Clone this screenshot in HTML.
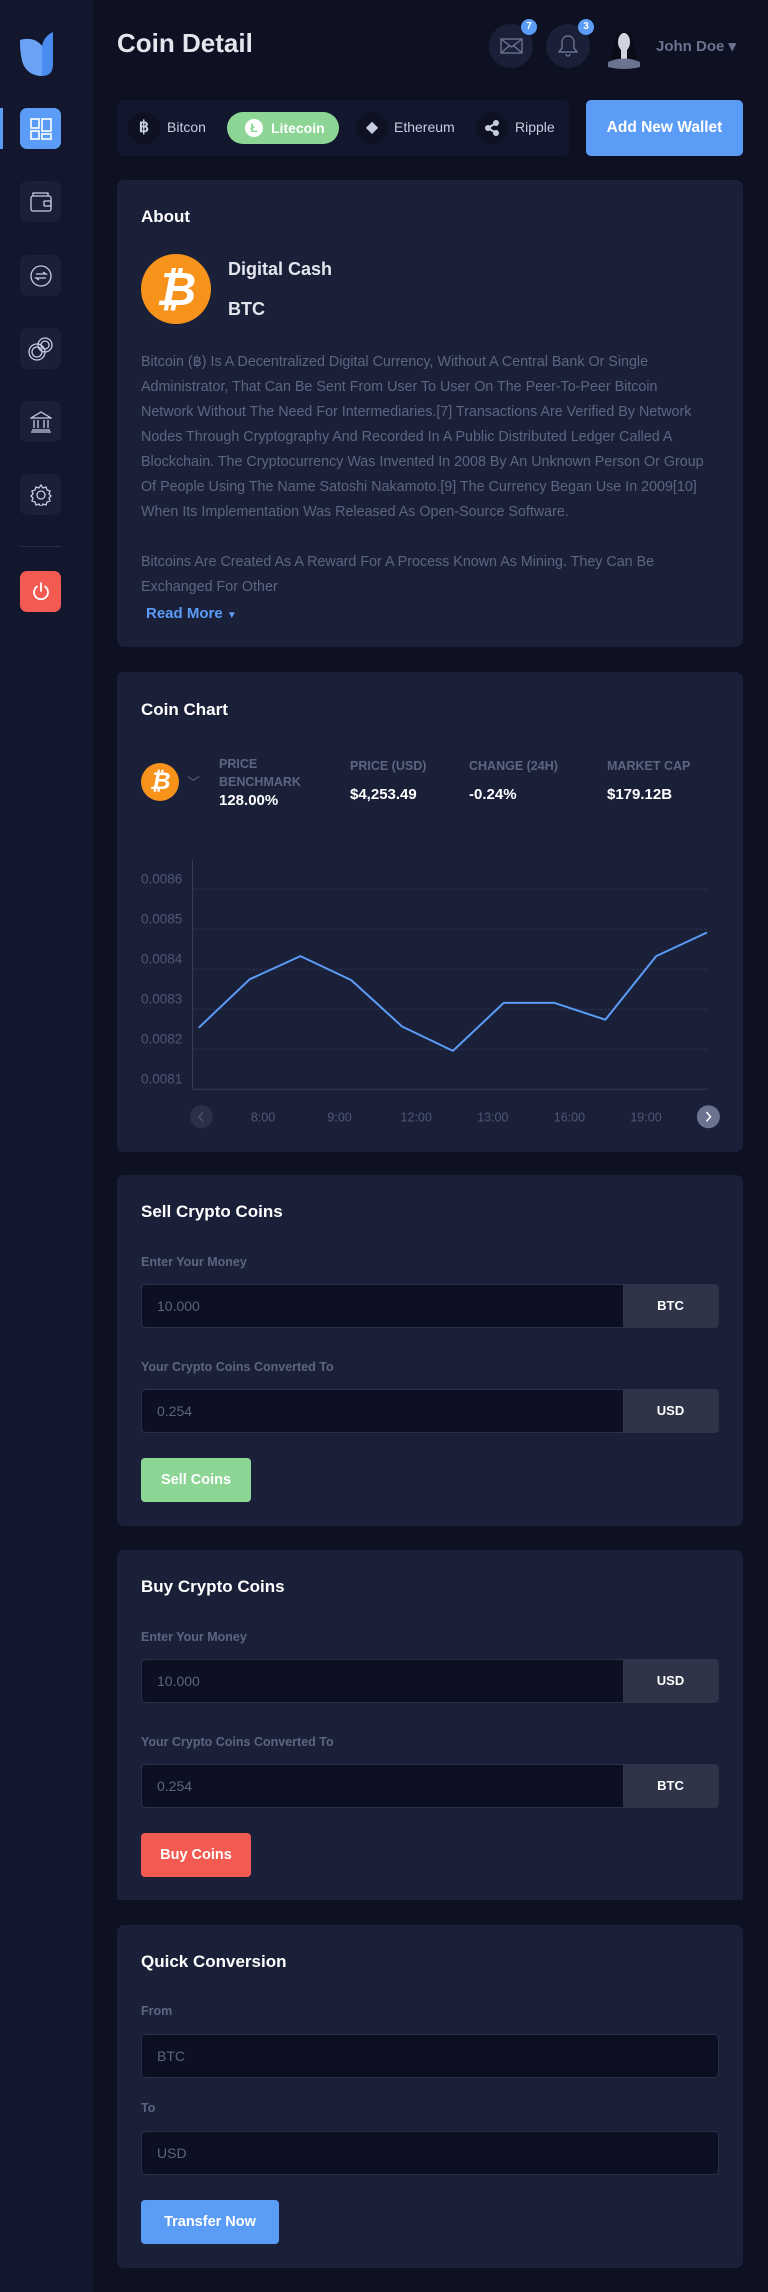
<!DOCTYPE html>
<html><head><meta charset="utf-8"><style>
*{box-sizing:border-box;margin:0;padding:0}
body{width:768px;height:2292px;background:#0d1121;font-family:"Liberation Sans",sans-serif;position:relative;overflow:hidden;color:#fff}
.a{position:absolute}
.side{left:0;top:0;width:93px;height:2292px;background:#12172e}
.sb{position:absolute;left:20px;width:41px;height:41px;border-radius:7px;background:#1a2038;display:flex;align-items:center;justify-content:center}
.card{position:absolute;left:117px;width:626px;background:#1b2039;border-radius:7px}
.h{position:absolute;left:24px;font-size:17px;font-weight:bold;color:#fff}
.lbl{position:absolute;left:24px;font-size:12.5px;font-weight:bold;color:#5c6580}
.inp{position:absolute;left:24px;width:578px;height:44px;background:#0c1022;border:1px solid #2a3048;border-radius:4px;font-size:14px;color:#5c6580;padding-left:15px;line-height:42px}
.add{position:absolute;right:0;top:-1px;width:95px;height:44px;background:#2f3449;color:#fff;font-weight:bold;font-size:13px;text-align:center;line-height:44px;border-radius:0 4px 4px 0}
.btn{position:absolute;left:24px;height:44px;border-radius:4px;font-weight:bold;font-size:14.5px;color:#fff;text-align:center;line-height:44px}
.p{position:absolute;left:24px;font-size:14.3px;color:#5c6580;line-height:25px;width:600px;white-space:nowrap}
.cl{font-size:12.5px;font-weight:bold;color:#5c6580;position:absolute}
.cv{font-size:15px;font-weight:bold;color:#fff;position:absolute}
</style></head><body>
<div class="a side">
 <svg class="a" style="left:20px;top:32px" width="33" height="44" viewBox="0 0 33 44"><path d="M0 8 Q0 30 10 40 Q16 44 22 44 Q33 44 33 32 L33 0 Q24 4 22 14 Q14 4 0 8Z" fill="#4a8bf0"/><path d="M0 8 Q14 4 22 14 L22 44 Q10 44 4 34 Q0 26 0 8Z" fill="#6aa3f5"/></svg>
 <div class="a" style="left:0;top:108px;width:3px;height:41px;background:#5b9cf6"></div>
 <div class="sb" style="top:108px;background:#5b9cf6"><svg width="22" height="22" viewBox="0 0 22 22" fill="none" stroke="#fff" stroke-width="1.6"><rect x="1" y="1" width="8" height="9"/><rect x="1" y="13" width="8" height="8"/><rect x="12" y="1" width="9" height="12"/><rect x="12" y="16" width="9" height="5"/></svg></div>
 <div class="sb" style="top:181px"><svg width="22" height="20" viewBox="0 0 22 20" fill="none" stroke="#c8cde0" stroke-width="1.3"><rect x="1" y="4" width="20" height="15" rx="2"/><path d="M3 4 L3 1 L18 1 L18 4"/><rect x="14" y="9" width="7" height="5" rx="1"/></svg></div>
 <div class="sb" style="top:255px"><svg width="22" height="22" viewBox="0 0 22 22" fill="none" stroke="#c8cde0" stroke-width="1.3"><circle cx="11" cy="11" r="10"/><path d="M6 9h10l-3-2M16 13H6l3 2"/></svg></div>
 <div class="sb" style="top:328px"><svg width="26" height="26" viewBox="0 0 26 26" fill="none" stroke="#c8cde0" stroke-width="1.3"><circle cx="17" cy="9" r="7"/><circle cx="9" cy="16" r="8"/><circle cx="9" cy="16" r="5"/><circle cx="17" cy="9" r="4"/></svg></div>
 <div class="sb" style="top:401px"><svg width="22" height="22" viewBox="0 0 22 22" fill="none" stroke="#c8cde0" stroke-width="1.3"><path d="M1 7L11 1l10 6z"/><path d="M4 9v8M8 9v8M14 9v8M18 9v8M2 19h18M1 21h20"/></svg></div>
 <div class="sb" style="top:474px"><svg width="22" height="22" viewBox="0 0 22 22" fill="none" stroke="#c8cde0" stroke-width="1.3"><circle cx="11" cy="11" r="4"/><path d="M11 1l2 3 3-1 1 3 3 1-1 3 2 2-2 2 1 3-3 1-1 3-3-1-2 3-2-3-3 1-1-3-3-1 1-3-2-2 2-2-1-3 3-1 1-3 3 1z"/></svg></div>
 <div class="a" style="left:20px;top:546px;width:41px;border-top:1px dotted #3a4058"></div>
 <div class="sb" style="top:571px;background:#f25a52"><svg width="20" height="20" viewBox="0 0 20 20" fill="none" stroke="#fff" stroke-width="1.8" stroke-linecap="round"><path d="M6 4.5A7 7 0 1 0 14 4.5"/><path d="M10 1v8"/></svg></div>
</div>

<div class="a" style="left:117px;top:28px;font-size:26px;font-weight:bold;color:#e4e6ee">Coin Detail</div>
<div class="a" style="left:489px;top:24px;width:44px;height:44px;border-radius:50%;background:#1b2039"><svg class="a" style="left:11px;top:14px" width="23" height="16" viewBox="0 0 23 16" fill="none" stroke="#6b7390" stroke-width="1.4"><rect x="1" y="1" width="21" height="14"/><path d="M1 1l10.5 8L22 1M1 15l8-7M22 15l-8-7"/></svg></div>
<div class="a" style="left:521px;top:19px;width:16px;height:16px;border-radius:50%;background:#5b9cf6;font-size:10px;font-weight:bold;text-align:center;line-height:16px">7</div>
<div class="a" style="left:546px;top:24px;width:44px;height:44px;border-radius:50%;background:#1b2039"><svg class="a" style="left:12px;top:10px" width="20" height="24" viewBox="0 0 20 24" fill="none" stroke="#6b7390" stroke-width="1.4"><path d="M10 2c-4 0-6 3-6 7v5l-3 4h18l-3-4V9c0-4-2-7-6-7zM8 20a2 2 0 0 0 4 0"/></svg></div>
<div class="a" style="left:578px;top:19px;width:16px;height:16px;border-radius:50%;background:#5b9cf6;font-size:10px;font-weight:bold;text-align:center;line-height:16px">3</div>
<svg class="a" style="left:607px;top:29px" width="34" height="40" viewBox="0 0 34 40"><path d="M9 6Q17 -4 25 6Q28 18 30 30L4 30Q7 18 9 6Z" fill="#0a0d18"/><ellipse cx="17" cy="13" rx="6" ry="9" fill="#d0d4de"/><path d="M14 20h6v10h-6z" fill="#d0d4de"/><path d="M1 33Q17 26 33 33L33 38Q17 42 1 38Z" fill="#6b7390"/></svg>
<div class="a" style="left:656px;top:37px;font-size:15px;font-weight:bold;color:#6b7390">John Doe ▾</div>

<div class="a" style="left:117px;top:100px;width:452px;height:56px;background:#12172e;border-radius:6px">
 <div class="a" style="left:11px;top:12px;width:32px;height:32px;border-radius:50%;background:#0d1121;color:#c8cde0;font-weight:bold;font-size:16px;text-align:center;line-height:32px">฿</div>
 <div class="a" style="left:50px;top:19px;font-size:14px;color:#c8cde0">Bitcon</div>
 <div class="a" style="left:110px;top:12px;width:112px;height:32px;border-radius:16px;background:#8cd595"><div class="a" style="left:18px;top:7px;width:18px;height:18px;border-radius:50%;background:#fff;color:#8cd595;font-size:12px;font-weight:bold;text-align:center;line-height:18px">Ł</div><div class="a" style="left:44px;top:8px;font-size:14px;font-weight:bold;color:#fff">Litecoin</div></div>
 <div class="a" style="left:239px;top:12px;width:32px;height:32px;border-radius:50%;background:#0d1121;color:#c8cde0;font-size:16px;text-align:center;line-height:32px">◆</div>
 <div class="a" style="left:277px;top:19px;font-size:14px;color:#c8cde0">Ethereum</div>
 <div class="a" style="left:359px;top:12px;width:32px;height:32px;border-radius:50%;background:#0d1121"><svg class="a" style="left:8px;top:8px" width="16" height="16" viewBox="0 0 16 16" fill="#c8cde0"><circle cx="4" cy="8" r="3"/><circle cx="12" cy="3" r="3"/><circle cx="12" cy="13" r="3"/><path d="M4 8L12 3M4 8L12 13" stroke="#c8cde0" stroke-width="2"/></svg></div>
 <div class="a" style="left:398px;top:19px;font-size:14px;color:#c8cde0">Ripple</div>
</div>
<div class="a" style="left:586px;top:100px;width:157px;height:56px;background:#5b9cf6;border-radius:5px;font-size:15.5px;font-weight:bold;text-align:center;line-height:56px">Add New Wallet</div>

<div class="card" style="top:180px;height:467px">
 <div class="h" style="top:27px">About</div>
 <div class="a" style="left:24px;top:74px;width:70px;height:70px;border-radius:50%;background:#f7931a;color:#fff;font-size:46px;font-weight:bold;text-align:center;line-height:70px;font-style:italic">₿</div>
 <div class="a" style="left:111px;top:79px;font-size:18px;font-weight:bold;color:#e4e6ee">Digital Cash</div>
 <div class="a" style="left:111px;top:119px;font-size:18px;font-weight:bold;color:#e4e6ee">BTC</div>
 <div class="p" style="top:170px">Bitcoin (฿) Is A Decentralized Digital Currency, Without A Central Bank Or Single<br>Administrator, That Can Be Sent From User To User On The Peer-To-Peer Bitcoin<br>Network Without The Need For Intermediaries.[7] Transactions Are Verified By Network<br>Nodes Through Cryptography And Recorded In A Public Distributed Ledger Called A<br>Blockchain. The Cryptocurrency Was Invented In 2008 By An Unknown Person Or Group<br>Of People Using The Name Satoshi Nakamoto.[9] The Currency Began Use In 2009[10]<br>When Its Implementation Was Released As Open-Source Software.<br><br>Bitcoins Are Created As A Reward For A Process Known As Mining. They Can Be<br>Exchanged For Other</div>
 <div class="a" style="left:29px;top:425px;font-size:15px;font-weight:bold;color:#5b9cf6">Read More <span style="font-size:10px">▼</span></div>
</div>

<div class="card" style="top:672px;height:480px">
 <div class="h" style="top:28px">Coin Chart</div>
 <div class="a" style="left:24px;top:91px;width:38px;height:38px;border-radius:50%;background:#f7931a;color:#fff;font-size:24px;font-weight:bold;font-style:italic;text-align:center;line-height:38px">₿</div>
 <div class="a" style="left:70px;top:100px;font-size:13px;color:#5c6580">﹀</div>
 <div class="cl" style="left:102px;top:83px;line-height:18px">PRICE<br>BENCHMARK</div>
 <div class="cv" style="left:102px;top:120px">128.00%</div>
 <div class="cl" style="left:233px;top:87px">PRICE (USD)</div>
 <div class="cv" style="left:233px;top:114px">$4,253.49</div>
 <div class="cl" style="left:352px;top:87px">CHANGE (24H)</div>
 <div class="cv" style="left:352px;top:114px">-0.24%</div>
 <div class="cl" style="left:490px;top:87px">MARKET CAP</div>
 <div class="cv" style="left:490px;top:114px">$179.12B</div>
</div>
<svg class="a" style="left:0;top:0" width="768" height="1200" id="chart"></svg>

<div class="card" style="top:1175px;height:351px">
 <div class="h" style="top:27px">Sell Crypto Coins</div>
 <div class="lbl" style="top:80px">Enter Your Money</div>
 <div class="inp" style="top:109px">10.000<div class="add">BTC</div></div>
 <div class="lbl" style="top:185px">Your Crypto Coins Converted To</div>
 <div class="inp" style="top:214px">0.254<div class="add">USD</div></div>
 <div class="btn" style="top:283px;width:110px;background:#8cd595">Sell Coins</div>
</div>

<div class="card" style="top:1550px;height:350px;border-radius:7px 7px 0 0">
 <div class="h" style="top:27px">Buy Crypto Coins</div>
 <div class="lbl" style="top:80px">Enter Your Money</div>
 <div class="inp" style="top:109px">10.000<div class="add">USD</div></div>
 <div class="lbl" style="top:185px">Your Crypto Coins Converted To</div>
 <div class="inp" style="top:214px">0.254<div class="add">BTC</div></div>
 <div class="btn" style="top:283px;width:110px;background:#f25a52">Buy Coins</div>
</div>

<div class="card" style="top:1925px;height:343px">
 <div class="h" style="top:27px">Quick Conversion</div>
 <div class="lbl" style="top:79px">From</div>
 <div class="inp" style="top:109px">BTC</div>
 <div class="lbl" style="top:176px">To</div>
 <div class="inp" style="top:206px">USD</div>
 <div class="btn" style="top:275px;width:138px;background:#5b9cf6">Transfer Now</div>
</div>

<script>
const yTicks=[0.0081,0.0082,0.0083,0.0084,0.0085,0.0086];
const xLabels=["8:00","9:00","12:00","13:00","16:00","19:00"];
const prices=[0.008254,0.008375,0.008433,0.008373,0.008257,0.008196,0.008316,0.008316,0.008274,0.008433,0.008492];
const NS="http://www.w3.org/2000/svg";
const svg=document.getElementById('chart');
const X0=192.5,X1=707,Y0=1089.3,PX0=198.8,PX1=707;
function y(v){return Y0-(v-0.0081)/0.0001*40;}
function px(i){return PX0+i*(PX1-PX0)/(prices.length-1);}
function lx(i){return 263+i*76.6;}
function mk(t,a){const e=document.createElementNS(NS,t);for(const k in a)e.setAttribute(k,a[k]);svg.appendChild(e);return e;}
yTicks.forEach(v=>{
 if(v>0.0081){const g=mk('line',{x1:X0,x2:X1,y1:y(v),y2:y(v),stroke:'#343a58','stroke-dasharray':'2,2','stroke-width':1});
 
 }
 const t=mk('text',{x:141,y:y(v)-6,'font-size':13.5,fill:'#4f5774','font-family':'Liberation Sans'});t.textContent=v.toFixed(4);
 
 
});
const ax=mk('path',{d:`M${X0} 860 V${Y0} H${X1}`,stroke:'#363c58',fill:'none','stroke-width':1});


xLabels.forEach((l,i)=>{const t=mk('text',{x:lx(i),y:1121.5,'font-size':12.5,fill:'#4f5774','text-anchor':'middle','font-family':'Liberation Sans'});t.textContent=l;
 
 });
const line=mk('polyline',{points:prices.map((v,i)=>px(i)+','+y(v)).join(' '),fill:'none',stroke:'#5b9cf6','stroke-width':2,'stroke-linejoin':'round'});


const pb=mk('circle',{cx:201.4,cy:1116.7,r:11.5,fill:'#2a3048'});


mk('path',{d:'M203 1112l-4 4.7 4 4.7',stroke:'#4a5070',fill:'none','stroke-width':1.5});
const nb=mk('circle',{cx:708.4,cy:1116.7,r:11.5,fill:'#6b7390'});


mk('path',{d:'M706.5 1112l4 4.7-4 4.7',stroke:'#fff',fill:'none','stroke-width':1.5});
</script>
</body></html>
